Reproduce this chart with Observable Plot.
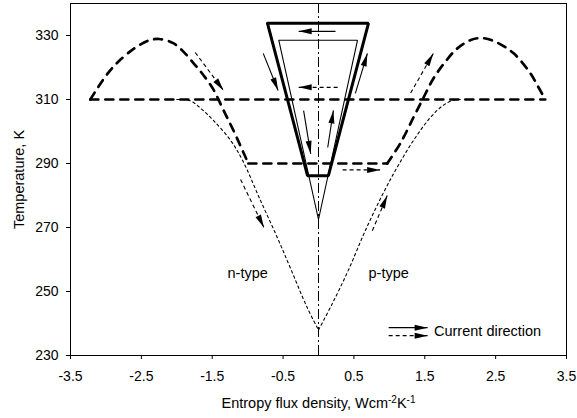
<!DOCTYPE html>
<html><head><meta charset="utf-8">
<script src="https://cdn.jsdelivr.net/npm/d3@7"></script>
<script src="https://cdn.jsdelivr.net/npm/@observablehq/plot@0.6"></script>
<style>body{margin:0;background:#fff}svg{display:block}</style>
</head><body><div id="chart"></div>
<script>
// ---- axes ----
const xTicks = [-3.5, -2.5, -1.5, -0.5, 0.5, 1.5, 2.5, 3.5];
const yTicks = [230, 250, 270, 290, 310, 330];
const xDomain = [-3.5, 3.5];
const yDomain = [230, 340];
const yTitle = "Temperature, K";
const xTitleParts = ["Entropy flux density, Wcm", "-2", "K", "-1"];

// ---- thick dashed curves ----
const nArcX = [-3.22, -3.12, -2.98, -2.84, -2.61, -2.4, -2.25, -2.05, -1.9, -1.75, -1.62, -1.48, -1.34, -1.2, -0.99];
const nArcT = [310, 313.5, 318, 321.5, 325.8, 328.4, 328.9, 327.6, 324.8, 321, 317.5, 313, 306.6, 300.3, 290];
const pArcX = [0.97, 1.16, 1.34, 1.48, 1.62, 1.78, 1.95, 2.15, 2.31, 2.5, 2.75, 2.98, 3.1, 3.2];
const pArcT = [290, 296.5, 304.4, 310.5, 316.5, 321.5, 325.8, 328.6, 329.2, 328, 324.5, 318.5, 314, 310];
const hotX = [-3.22, 3.2];
const hotT = [310, 310];
const coldX = [-0.99, 0.97];
const coldT = [290, 290];

// ---- thin dotted curves ----
const nDotX = [-2.0, -1.81, -1.65, -1.48, -1.24, -1.07, -0.82, -0.58, -0.4, -0.16, 0];
const nDotT = [310, 309.6, 307, 303.4, 297.2, 290.9, 278.5, 266.8, 257.5, 245, 238];
const pDotX = [0, 0.19, 0.42, 0.66, 0.92, 1.11, 1.34, 1.58, 1.75, 1.9, 2.0];
const pDotT = [238, 246, 256.6, 269, 281, 288.8, 297.2, 304.4, 308, 309.8, 310];

// ---- central cycle ----
const outerX = [-0.72, 0.705, 0.14, -0.155, -0.72];
const outerT = [333.8, 333.8, 286.2, 286.2, 333.8];
const innerX = [-0.56, 0.55, 0, -0.56];
const innerT = [328.5, 328.5, 272.5, 328.5];

// ---- arrows (from -> to) ----
const arrowX1 = [-1.74, -1.1, 0.76, 1.3, 0.34, 0.24, 0.27, -0.78, -0.21, 0.13, 0.52];
const arrowT1 = [324.7, 285, 269, 312, 288, 331.3, 313.8, 324.4, 306.5, 295, 311.9];
const arrowX2 = [-1.34, -0.77, 0.97, 1.62, 0.87, -0.28, -0.28, -0.57, -0.11, 0.21, 0.69];
const arrowT2 = [312.8, 270, 280, 324.4, 288, 331.3, 313.8, 312.8, 293, 306.6, 324.4];
const arrowKind = ["dashed", "dashed", "dashed", "dashed", "dashed", "solid", "dashed", "solid", "solid", "solid", "solid"];

// ---- annotations ----
const labelText = ["n-type", "p-type"];
const labelX = [-1.0, 0.99];
const labelT = [255.6, 255.6];

const legendX1 = [0.99, 0.99];
const legendX2 = [1.54, 1.54];
const legendT = [238.7, 236.2];
const legendKind = ["solid", "dashed"];
const legendText = "Current direction";
const legendTextX = 1.63;
const legendTextT = 237.6;

// ---- layout ----
const W = 577, H = 418, mL = 70, mR = 11, mT = 3, mB = 63;
const kx = (W - mL - mR) / (xDomain[1] - xDomain[0]);
const ky = (H - mT - mB) / (yDomain[1] - yDomain[0]);

const pts = (X, Y) => X.map((x, i) => ({x, y: Y[i]}));
const arrows = arrowX1.map((x1, i) => ({x1, y1: arrowT1[i], x2: arrowX2[i], y2: arrowT2[i], kind: arrowKind[i]}));
legendX1.forEach((x1, i) => arrows.push({x1, y1: legendT[i], x2: legendX2[i], y2: legendT[i], kind: legendKind[i]}));
arrows.forEach(a => a.angle = Math.atan2((a.x2 - a.x1) * kx, (a.y2 - a.y1) * ky) * 180 / Math.PI);

const head = {draw(c) { c.moveTo(0, 0); c.lineTo(-3, 13); c.lineTo(3, 13); c.closePath(); }};

const thick = {x: "x", y: "y", stroke: "black", strokeWidth: 2.7, strokeDasharray: "8,7", curve: "catmull-rom"};
const dotted = {x: "x", y: "y", stroke: "black", strokeWidth: 1.1, strokeDasharray: "2.5,3", curve: "catmull-rom"};

const chart = Plot.plot({
  width: W, height: H,
  marginLeft: mL, marginRight: mR, marginTop: mT, marginBottom: mB,
  x: {domain: xDomain},
  y: {domain: yDomain},
  style: {fontFamily: "'Liberation Sans', Arial, sans-serif", fontSize: "13.5px", color: "black", background: "white"},
  marks: [
    Plot.ruleX([0], {stroke: "black", strokeWidth: 1, strokeDasharray: "10,3,2,3"}),
    Plot.line(pts(hotX, hotT), thick),
    Plot.line(pts(coldX, coldT), thick),
    Plot.line(pts(nArcX, nArcT), thick),
    Plot.line(pts(pArcX, pArcT), thick),
    Plot.line(pts(nDotX, nDotT), dotted),
    Plot.line(pts(pDotX, pDotT), dotted),
    Plot.line(pts(outerX, outerT), {x: "x", y: "y", stroke: "black", strokeWidth: 3, strokeLinejoin: "miter"}),
    Plot.line(pts(innerX, innerT), {x: "x", y: "y", stroke: "black", strokeWidth: 1.1, strokeLinejoin: "miter"}),
    Plot.link(arrows.filter(a => a.kind === "solid"), {x1: "x1", y1: "y1", x2: "x2", y2: "y2", stroke: "black", strokeWidth: 1.1}),
    Plot.link(arrows.filter(a => a.kind === "dashed"), {x1: "x1", y1: "y1", x2: "x2", y2: "y2", stroke: "black", strokeWidth: 1.1, strokeDasharray: "4,3"}),
    Plot.dot(arrows, {x: "x2", y: "y2", rotate: "angle", symbol: head, fill: "black", stroke: "none", r: 4}),
    Plot.text(labelText, {x: labelX, y: labelT, text: d => d, fontSize: 14.5}),
    Plot.text([legendText], {x: legendTextX, y: legendTextT, textAnchor: "start", fontSize: 14.5}),
    Plot.frame({stroke: "black", strokeWidth: 1}),
    Plot.axisX({ticks: xTicks, tickFormat: d => d.toFixed(1), tickSize: 4, tickPadding: 12, label: null, fontSize: 14}),
    Plot.axisY({ticks: yTicks, tickSize: 4, tickPadding: 8, label: null, fontSize: 14}),
    Plot.text([yTitle], {frameAnchor: "left", dx: -51, rotate: -90, textAnchor: "middle", lineAnchor: "middle", fontSize: 14.5}),
    Plot.text([xTitleParts.join("")], {frameAnchor: "bottom", dy: 48, lineAnchor: "middle", fontSize: 14.5})
  ]
});

// superscripts in the x title
d3.select(chart).selectAll("text").filter(function() { return this.textContent === xTitleParts.join(""); })
  .each(function() {
    const t = d3.select(this).text(null);
    t.append("tspan").text(xTitleParts[0]);
    t.append("tspan").attr("dy", -5).attr("font-size", "10px").text(xTitleParts[1]);
    t.append("tspan").attr("dy", 5).text(xTitleParts[2]);
    t.append("tspan").attr("dy", -5).attr("font-size", "10px").text(xTitleParts[3]);
  });

document.getElementById("chart").append(chart);
</script>
</body></html>
